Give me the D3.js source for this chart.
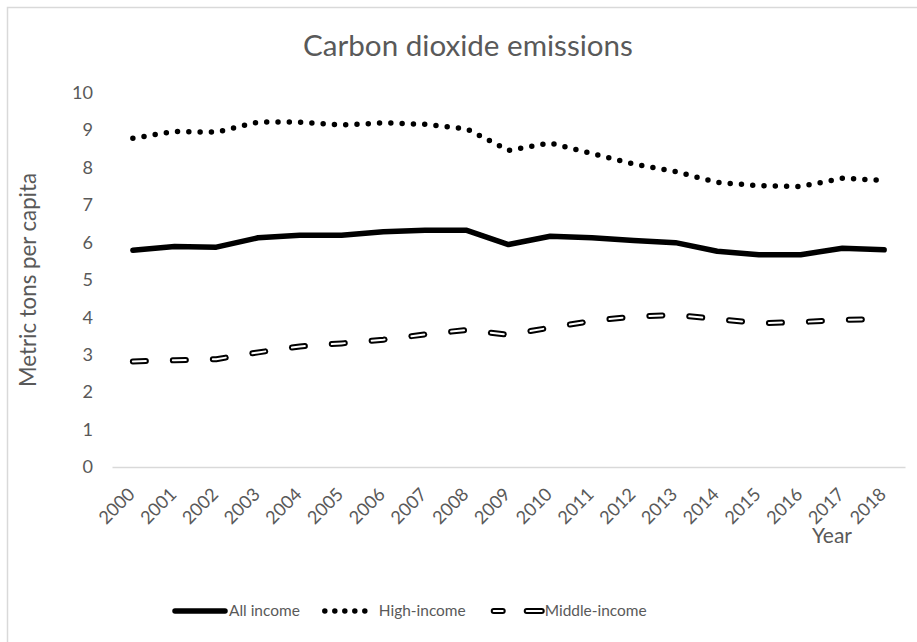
<!DOCTYPE html>
<html><head><meta charset="utf-8">
<script src="https://cdn.jsdelivr.net/npm/d3@7"></script>
<style>
html,body{margin:0;padding:0;background:#fff;}
svg{display:block;font-family:Lato,"Open Sans",sans-serif;}
</style></head>
<body>
<svg id="chart" width="917" height="642"></svg>
<script>
const years = ["2000","2001","2002","2003","2004","2005","2006","2007","2008","2009","2010","2011","2012","2013","2014","2015","2016","2017","2018"];
const allIncome = [5.79,5.89,5.87,6.12,6.19,6.19,6.28,6.32,6.32,5.94,6.16,6.12,6.05,5.99,5.76,5.67,5.67,5.84,5.80];
const highIncome = [8.78,8.96,8.94,9.21,9.21,9.13,9.19,9.15,9.03,8.45,8.65,8.37,8.09,7.89,7.60,7.51,7.49,7.71,7.65];
const middleIncome = [2.82,2.85,2.88,3.06,3.22,3.30,3.40,3.54,3.66,3.53,3.72,3.90,4.02,4.06,3.95,3.84,3.87,3.93,3.95];
const yTicks = [0,1,2,3,4,5,6,7,8,9,10];
const seriesNames = ["All income","High-income","Middle-income"];
const titleText = "Carbon dioxide emissions";
const yTitleText = "Metric tons per capita";
const xTitleText = "Year";

const svg = d3.select("#chart");
const grey = "#595959";

// fit a text element's font-size so its width equals target
function fit(sel, target) {
  const base = 20;
  sel.attr("font-size", base);
  const w = sel.node().getComputedTextLength();
  const fs = base * target / w;
  sel.attr("font-size", fs);
  return fs;
}
function measure(str, fs) {
  const t = svg.append("text").attr("font-size", fs).text(str);
  const w = t.node().getComputedTextLength();
  t.remove();
  return w;
}

// border
svg.append("rect").attr("x",7.5).attr("y",7.5).attr("width",930).attr("height",660)
  .attr("fill","none").attr("stroke","#d9d9d9").attr("stroke-width",1.5);

const x = d3.scaleBand().domain(years).range([112, 905]).paddingInner(0).paddingOuter(0);
const y = d3.scaleLinear().domain([0,10]).range([467, 92.5]);
const cx = d => x(d) + x.bandwidth()/2;

// title
const title = svg.append("text").attr("x",468).attr("y",56).attr("text-anchor","middle")
  .attr("fill",grey).text(titleText);
fit(title, 330);

// tick font size
const tickFs = 21 / measure("10", 20) * 20;

// y ticks
svg.append("g").selectAll("text").data(yTicks).join("text")
  .attr("x",93).attr("y",d=>y(d)).attr("dy","0.35em").attr("text-anchor","end")
  .attr("font-size",tickFs).attr("fill",grey).text(d=>d);

// x axis line
const xAxis = svg.append("g").attr("transform","translate(0,467)")
  .call(d3.axisBottom(x).tickSize(0).tickFormat(""));
xAxis.select(".domain").attr("stroke","#d9d9d9").attr("stroke-width",1.5);

// x tick labels
svg.append("g").selectAll("text").data(years).join("text")
  .attr("transform",d=>`translate(${cx(d)-1.5},491) rotate(-45)`)
  .attr("dy","0.35em").attr("text-anchor","end")
  .attr("font-size",tickFs).attr("fill",grey).text(d=>d);

// axis titles
const yTitle = svg.append("text").attr("transform","translate(28,280) rotate(-90)")
  .attr("dy","0.35em").attr("text-anchor","middle").attr("fill",grey).text(yTitleText);
fit(yTitle, 214);
const xTitle = svg.append("text").attr("x",832).attr("y",543).attr("text-anchor","middle")
  .attr("fill",grey).text(xTitleText);
fit(xTitle, 40);

// lines
const line = d3.line().x((d,i)=>cx(years[i])).y(d=>y(d));
const plot = svg.append("g");

function drawSeries(g, pathGen, data, kind) {
  if (kind === "solid") {
    g.append("path").attr("d", pathGen(data)).attr("fill","none").attr("stroke","#000")
      .attr("stroke-width",5.5).attr("stroke-linejoin","round").attr("stroke-linecap","round");
  } else if (kind === "dot") {
    g.append("path").attr("d", pathGen(data)).attr("fill","none").attr("stroke","#000")
      .attr("stroke-width",5.5).attr("stroke-linecap","round").attr("stroke-dasharray","0 11.3");
  } else {
    g.append("path").attr("d", pathGen(data)).attr("fill","none").attr("stroke","#000")
      .attr("stroke-width",6).attr("stroke-linecap","round").attr("stroke-dasharray","13 27");
    g.append("path").attr("d", pathGen(data)).attr("fill","none").attr("stroke","#fff")
      .attr("stroke-width",2).attr("stroke-linecap","round").attr("stroke-dasharray","13 27");
  }
}
drawSeries(plot, line, allIncome, "solid");
drawSeries(plot, line, highIncome, "dot");
drawSeries(plot, line, middleIncome, "dash");

// legend
const legFs = 102 / measure("Middle-income", 20) * 20;
const kinds = ["solid","dot","dash"];
let lx = 175;
const ly = 611;
const legend = svg.append("g");
seriesNames.forEach((name,i) => {
  const g = legend.append("g");
  const sampleLine = d3.line().x(d=>d[0]).y(d=>d[1]);
  const pts = [[lx, ly],[lx+50, ly]];
  if (kinds[i] === "dot") {
    g.append("path").attr("d", sampleLine(pts)).attr("fill","none").attr("stroke","#000")
      .attr("stroke-width",5.5).attr("stroke-linecap","round").attr("stroke-dasharray","0 10");
  } else if (kinds[i] === "solid") {
    g.append("path").attr("d", sampleLine(pts)).attr("fill","none").attr("stroke","#000")
      .attr("stroke-width",5.5).attr("stroke-linecap","round");
  } else {
    const p2 = [[lx+3, ly],[lx+52, ly]];
    g.append("path").attr("d", sampleLine(p2)).attr("fill","none").attr("stroke","#000")
      .attr("stroke-width",6).attr("stroke-linecap","round").attr("stroke-dasharray","9 24 15 40");
    g.append("path").attr("d", sampleLine(p2)).attr("fill","none").attr("stroke","#fff")
      .attr("stroke-width",2).attr("stroke-linecap","round").attr("stroke-dasharray","9 24 15 40");
  }
  const t = g.append("text").attr("x", lx+54).attr("y", ly).attr("dy","0.35em")
    .attr("font-size", legFs).attr("fill", grey).text(name);
  lx = lx + 54 + t.node().getComputedTextLength() + 25;
});
</script>
</body></html>
